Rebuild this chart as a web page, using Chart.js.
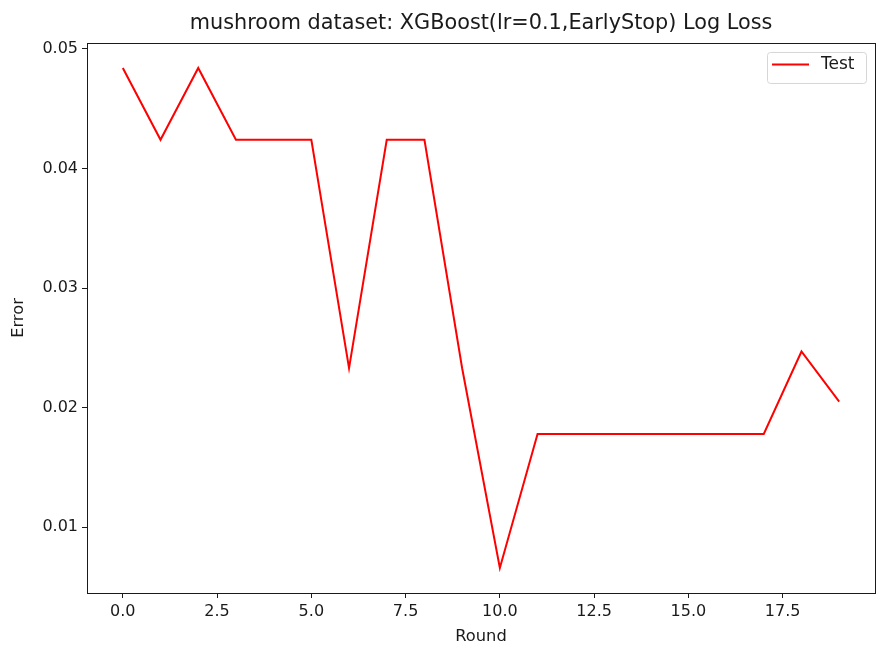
<!DOCTYPE html>
<html>
<head>
<meta charset="utf-8">
<script src="https://cdn.jsdelivr.net/npm/chart.js@4/dist/chart.umd.min.js"></script>
<style>
  html, body { margin: 0; padding: 0; background: #fff; }
  #wrap { width: 891px; height: 651px; }
</style>
</head>
<body>
<div id="wrap"><canvas id="chart" width="891" height="651"></canvas></div>
<script>
const rounds = [0, 1, 2, 3, 4, 5, 6, 7, 8, 9, 10, 11, 12, 13, 14, 15, 16, 17, 18, 19];
const testLoss = [0.0484, 0.0424, 0.0484, 0.0424, 0.0424, 0.0424, 0.0233, 0.0424, 0.0424, 0.0233,
                  0.0066, 0.0178, 0.0178, 0.0178, 0.0178, 0.0178, 0.0178, 0.0178, 0.0247, 0.0205];
const xTicks = [0, 2.5, 5, 7.5, 10, 12.5, 15, 17.5];
const yTicks = [0.01, 0.02, 0.03, 0.04, 0.05];

const FONT = 'DejaVu Sans';
const INK = '#1a1a1a';

// matplotlib-style 5% margins
const yLo = Math.min(...testLoss), yHi = Math.max(...testLoss);
const yPad = (yHi - yLo) * 0.05;
const xPad = (rounds[rounds.length - 1] - rounds[0]) * 0.05;

const frame = {
    id: 'frame',
    afterDatasetsDraw(chart) {
        const { ctx, chartArea: a } = chart;
        ctx.save();
        ctx.strokeStyle = INK;
        ctx.lineWidth = 1;
        ctx.strokeRect(Math.round(a.left) + 0.5, Math.round(a.top) + 0.5,
            Math.round(a.right - a.left), Math.round(a.bottom - a.top));

        // legend box in the upper right corner
        const ds = chart.data.datasets[0];
        const w = 99, h = 31;
        const x = a.right - 9 - w, y = a.top + 9;
        ctx.beginPath();
        ctx.roundRect(x + 0.5, y + 0.5, w, h, 3);
        ctx.fillStyle = 'rgba(255,255,255,0.8)';
        ctx.fill();
        ctx.strokeStyle = '#d6d6d6';
        ctx.stroke();
        ctx.beginPath();
        ctx.moveTo(x + 5, y + 12.5);
        ctx.lineTo(x + 42, y + 12.5);
        ctx.strokeStyle = ds.borderColor;
        ctx.lineWidth = 2;
        ctx.stroke();
        ctx.fillStyle = INK;
        ctx.font = '17px "' + FONT + '"';
        ctx.textBaseline = 'middle';
        ctx.fillText(ds.label, x + 54, y + 13);
        ctx.restore();
    }
};

new Chart(document.getElementById('chart'), {
    type: 'line',
    data: {
        datasets: [{
            label: 'Test',
            data: rounds.map((r, i) => ({ x: r, y: testLoss[i] })),
            borderColor: '#ff0000',
            borderWidth: 2,
            pointRadius: 0,
            tension: 0,
            fill: false,
        }],
    },
    options: {
        responsive: false,
        animation: false,
        layout: { padding: { left: 0, right: 16, top: 0, bottom: 0 } },
        plugins: {
            legend: { display: false },
            tooltip: { enabled: false },
            title: {
                display: true,
                fullSize: false,
                text: 'mushroom dataset: XGBoost(lr=0.1,EarlyStop) Log Loss',
                color: INK,
                font: { family: FONT, size: 20.8, weight: 'normal' },
                padding: { top: 11.5, bottom: 6.5 },
            },
        },
        scales: {
            x: {
                type: 'linear',
                min: rounds[0] - xPad,
                max: rounds[rounds.length - 1] + xPad,
                afterBuildTicks: (s) => { s.ticks = xTicks.map(v => ({ value: v })); },
                afterFit: (s) => { s.height = 58; },
                grid: { display: true, drawOnChartArea: false, drawTicks: true, tickLength: 5, color: INK },
                border: { display: false },
                ticks: {
                    color: INK,
                    padding: 4,
                    maxRotation: 0,
                    font: { family: FONT, size: 16 },
                    callback: (v) => Number(v).toFixed(1),
                },
                title: {
                    display: true,
                    text: 'Round',
                    color: INK,
                    font: { family: FONT, size: 16.3 },
                    padding: { top: 5.5 },
                },
            },
            y: {
                min: yLo - yPad,
                max: yHi + yPad,
                afterBuildTicks: (s) => { s.ticks = yTicks.map(v => ({ value: v })); },
                afterFit: (s) => { s.width = 87; },
                grid: { display: true, drawOnChartArea: false, drawTicks: true, tickLength: 5, color: INK },
                border: { display: false },
                ticks: {
                    color: INK,
                    padding: 4,
                    font: { family: FONT, size: 16 },
                    callback: (v) => Number(v).toFixed(2),
                },
                title: {
                    display: true,
                    text: 'Error',
                    color: INK,
                    font: { family: FONT, size: 16.3 },
                    padding: { top: 8.5 },
                },
            },
        },
    },
    plugins: [frame],
});
</script>
</body>
</html>
